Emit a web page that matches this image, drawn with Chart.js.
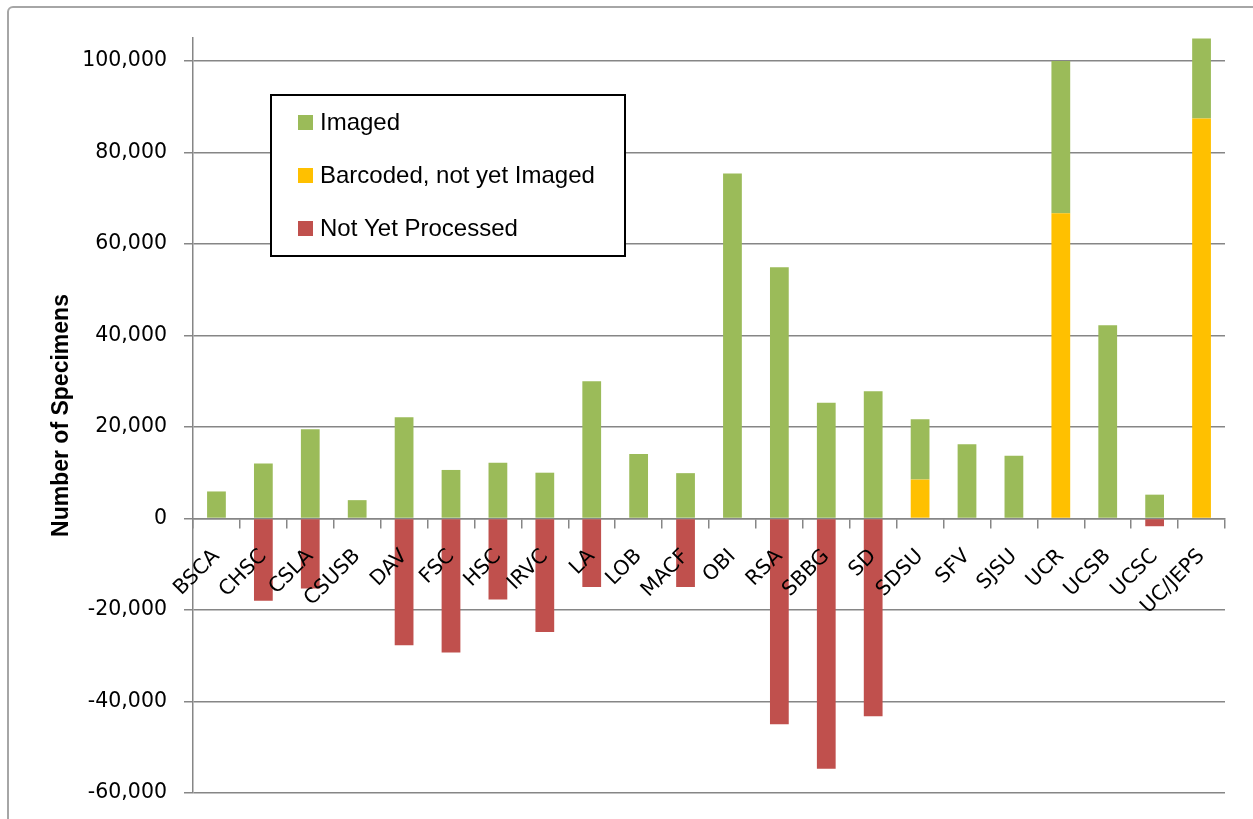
<!DOCTYPE html>
<html>
<head>
<meta charset="utf-8">
<script src="https://cdn.jsdelivr.net/npm/chart.js@4.4.1/dist/chart.umd.min.js"></script>
<style>
    html, body { margin: 0; padding: 0; background: #fff; }
    #wrap { position: relative; width: 1253px; height: 819px; overflow: hidden; }
    #frame { position: absolute; left: 7px; top: 6px; width: 1270px; height: 840px;
             border: 2px solid #a6a6a6; border-radius: 6px; box-sizing: border-box; }
    canvas { position: absolute; left: 0; top: 0; }
</style>
</head>
<body>
<div id="wrap">
    <div id="frame"></div>
    <canvas id="specimenChart" width="1253" height="819"></canvas>
</div>
<script>
// Herbaria and their specimen counts
const herbaria = ['BSCA', 'CHSC', 'CSLA', 'CSUSB', 'DAV', 'FSC', 'HSC', 'IRVC', 'LA', 'LOB', 'MACF',
    'OBI', 'RSA', 'SBBG', 'SD', 'SDSU', 'SFV', 'SJSU', 'UCR', 'UCSB', 'UCSC', 'UC/JEPS'];

const imaged = [5900, 12000, 19500, 4000, 22100, 10600, 12200, 10000, 30000, 14100, 9900,
    75400, 54900, 25300, 27800, 13200, 16200, 13700, 33300, 42200, 5200, 17500];

const barcoded = [0, 0, 0, 0, 0, 0, 0, 0, 0, 0, 0,
    0, 0, 0, 0, 8500, 0, 0, 66700, 0, 0, 87400];

const notProcessed = [0, -18000, -15300, 0, -27700, -29300, -17700, -24800, -15000, 0, -15000,
    0, -45000, -54700, -43200, 0, 0, 0, 0, 0, -1700, 0];

const yTicks = [-60000, -40000, -20000, 0, 20000, 40000, 60000, 80000, 100000];

const colors = {
    imaged: '#9BBB59',
    barcoded: '#FFC000',
    notProcessed: '#C0504D'
};

const gridColor = '#868686';
const tickFont = { family: '"DejaVu Sans", Verdana, sans-serif', size: 20.5 };

// Legend drawn inside the plot, in the order Excel showed it
const boxLegend = {
    id: 'boxLegend',
    afterDraw(chart) {
        const ctx = chart.ctx;
        const order = [1, 0, 2]; // Imaged, Barcoded, Not Yet Processed
        const x = 271, y = 95, w = 354, h = 161;
        ctx.save();
        ctx.fillStyle = '#fff';
        ctx.fillRect(x, y, w, h);
        ctx.strokeStyle = '#000';
        ctx.lineWidth = 2;
        ctx.strokeRect(x, y, w, h);
        ctx.font = '24px "Liberation Sans", Arial, sans-serif';
        ctx.textBaseline = 'middle';
        order.forEach((idx, i) => {
            const ds = chart.data.datasets[idx];
            const cy = y + 27 + i * 53;
            ctx.fillStyle = ds.backgroundColor;
            ctx.fillRect(x + 27, cy - 7, 15, 15);
            ctx.fillStyle = '#000';
            ctx.fillText(ds.label, x + 49, cy + 1);
        });
        ctx.restore();
    }
};

const ctx = document.getElementById('specimenChart');
new Chart(ctx.getContext('2d'), {
    type: 'bar',
    data: {
        labels: herbaria,
        datasets: [
            {
                label: 'Barcoded, not yet Imaged',
                data: barcoded,
                backgroundColor: colors.barcoded
            },
            {
                label: 'Imaged',
                data: imaged,
                backgroundColor: colors.imaged
            },
            {
                label: 'Not Yet Processed',
                data: notProcessed,
                backgroundColor: colors.notProcessed
            }
        ]
    },
    options: {
        responsive: false,
        animation: false,
        layout: {
            padding: { left: 10, top: 38, right: 28, bottom: 26 }
        },
        datasets: {
            bar: {
                barPercentage: 0.4,
                categoryPercentage: 1.0,
                borderWidth: 0
            }
        },
        plugins: {
            legend: { display: false },
            tooltip: { enabled: false }
        },
        scales: {
            x: {
                stacked: true,
                position: { y: 0 },
                grid: {
                    drawOnChartArea: false,
                    drawTicks: true,
                    tickLength: 9,
                    offset: true,
                    color: gridColor,
                    lineWidth: 1.5
                },
                border: { color: gridColor, width: 1.5 },
                ticks: {
                    z: 1, // labels sit on top of the red bars, as in Excel
                    color: '#000',
                    font: tickFont,
                    minRotation: 45,
                    maxRotation: 45,
                    autoSkip: false,
                    padding: 17
                }
            },
            y: {
                stacked: true,
                min: -60000,
                max: 105000,
                grid: {
                    color: gridColor,
                    lineWidth: 1.5,
                    tickLength: 9
                },
                border: { color: gridColor, width: 1.5 },
                afterFit(scale) {
                    scale.width = 183;
                    // layout padding alone decides the plot's top and bottom
                    scale.paddingTop = 0;
                    scale.paddingBottom = 0;
                },
                afterBuildTicks(scale) {
                    scale.ticks = yTicks.map(v => ({ value: v }));
                },
                ticks: {
                    color: '#000',
                    padding: 17,
                    font: tickFont,
                    callback: function(value) {
                        return value.toLocaleString('en-US');
                    }
                },
                title: {
                    display: true,
                    text: 'Number of Specimens',
                    color: '#000',
                    padding: { top: 38, bottom: 0 },
                    font: { family: '"Liberation Sans", Arial, sans-serif', size: 23, weight: 'bold' }
                }
            }
        }
    },
    plugins: [boxLegend]
});
</script>
</body>
</html>
